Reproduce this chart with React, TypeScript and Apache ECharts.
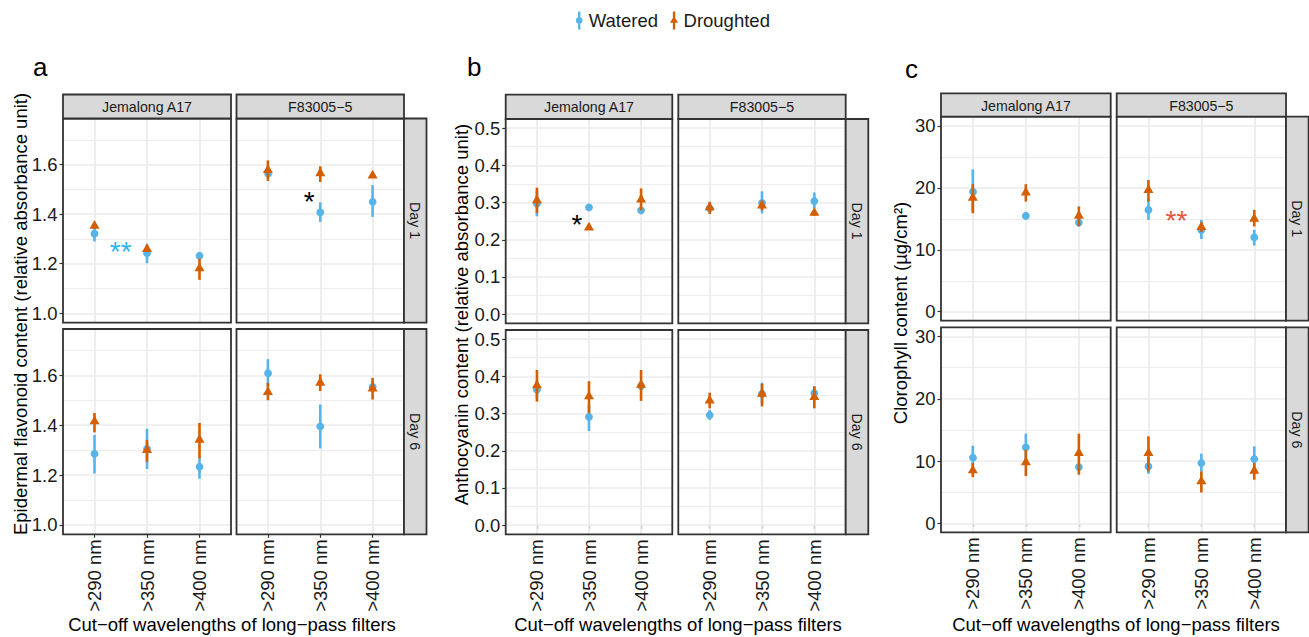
import React, { useEffect, useRef } from "react";
import * as echarts from "echarts";

// ---------- DATA ----------
const categories = [">290 nm", ">350 nm", ">400 nm"];
const genotypes = ["Jemalong A17", "F83005−5"];
const days = ["Day 1", "Day 6"];
const seriesNames = ["Watered", "Droughted"];

// [mean, lower, upper] per category
// a: Epidermal flavonoid
const flavJemDay1Watered = [[1.321, 1.29, 1.35], [1.243, 1.202, 1.28], [1.232, 1.224, 1.24]];
const flavJemDay1Droughted = [[1.353, 1.343, 1.363], [1.259, 1.251, 1.267], [1.181, 1.135, 1.22]];
const flavF8Day1Watered = [[1.568, 1.555, 1.58], [1.407, 1.369, 1.448], [1.453, 1.389, 1.517]];
const flavF8Day1Droughted = [[1.578, 1.534, 1.617], [1.565, 1.53, 1.593], [1.556, 1.548, 1.564]];
const flavJemDay6Watered = [[1.285, 1.206, 1.361], [1.305, 1.224, 1.386], [1.233, 1.185, 1.271]];
const flavJemDay6Droughted = [[1.415, 1.371, 1.449], [1.3, 1.253, 1.341], [1.341, 1.267, 1.409]];
const flavF8Day6Watered = [[1.613, 1.557, 1.665], [1.395, 1.307, 1.483], [1.557, 1.537, 1.577]];
const flavF8Day6Droughted = [[1.533, 1.5, 1.57], [1.57, 1.537, 1.604], [1.547, 1.503, 1.59]];

// b: Anthocyanin
const anthoJemDay1Watered = [[0.297, 0.263, 0.331], [0.287, 0.282, 0.292], [0.279, 0.274, 0.284]];
const anthoJemDay1Droughted = [[0.306, 0.272, 0.34], [0.233, 0.228, 0.238], [0.308, 0.279, 0.338]];
const anthoF8Day1Watered = [[0.284, 0.278, 0.29], [0.299, 0.271, 0.33], [0.304, 0.284, 0.327]];
const anthoF8Day1Droughted = [[0.287, 0.269, 0.302], [0.292, 0.279, 0.305], [0.272, 0.264, 0.28]];
const anthoJemDay6Watered = [[0.364, 0.34, 0.388], [0.291, 0.253, 0.323], [0.374, 0.366, 0.382]];
const anthoJemDay6Droughted = [[0.376, 0.332, 0.417], [0.346, 0.301, 0.387], [0.377, 0.334, 0.417]];
const anthoF8Day6Watered = [[0.296, 0.283, 0.31], [0.353, 0.327, 0.383], [0.355, 0.337, 0.373]];
const anthoF8Day6Droughted = [[0.335, 0.314, 0.356], [0.353, 0.319, 0.38], [0.344, 0.314, 0.373]];

// c: Chlorophyll
const chlJemDay1Watered = [[19.56, 16.2, 23.0], [15.48, 14.9, 16.1], [14.41, 13.9, 14.9]];
const chlJemDay1Droughted = [[18.4, 15.9, 20.6], [19.23, 17.8, 20.6], [15.48, 13.8, 17.0]];
const chlF8Day1Watered = [[16.44, 14.84, 18.3], [13.2, 11.74, 14.84], [12.0, 10.7, 13.23]];
const chlF8Day1Droughted = [[19.66, 17.8, 21.27], [13.67, 12.9, 14.4], [15.0, 13.77, 16.45]];
const chlJemDay6Watered = [[10.7, 9.14, 12.47], [12.2, 10.2, 14.4], [9.03, 8.5, 9.6]];
const chlJemDay6Droughted = [[8.49, 7.42, 9.68], [9.78, 7.6, 11.8], [11.29, 7.8, 14.4]];
const chlF8Day6Watered = [[9.14, 7.96, 10.5], [9.68, 8.3, 11.2], [10.32, 8.6, 12.37]];
const chlF8Day6Droughted = [[11.29, 8.33, 13.98], [6.72, 4.95, 8.33], [8.44, 7.0, 9.68]];

// axis breaks
const flavBreaks = [1.0, 1.2, 1.4, 1.6];
const flavMinor = [1.1, 1.3, 1.5, 1.7];
const anthoBreaks = [0.0, 0.1, 0.2, 0.3, 0.4, 0.5];
const anthoMinor = [0.05, 0.15, 0.25, 0.35, 0.45];
const chlBreaks = [0, 10, 20, 30];
const chlMinor = [5, 15, 25];

// significance annotations (panel index, facet index, x, y, text)
const annotPanel = [0, 0, 1, 2];
const annotFacet = [0, 1, 0, 1];
const annotX = [1.5, 1.79, 1.77, 1.53];
const annotY = [1.275, 1.476, 0.257, 15.64];
const annotText = ["**", "*", "*", "**"];

// ---------- STYLE / LAYOUT ----------
const FONT = "'Liberation Sans', Arial, Helvetica, sans-serif";
const seriesColors = ["#56B4E9", "#D55E00"];
const annotColors = ["#2FB5EC", "#000000", "#000000", "#E4573A"];
const BORDER = "#333333";
const GRIDC = "#EBEBEB";

const panels = [
  {
    letter: "a", letterX: 33, letterY: 67,
    yTitle: "Epidermal flavonoid content (relative absorbance unit)", yTitleX: 20, yTitleY: 314,
    xTitleX: 232,
    cols: [[63, 231], [236.5, 404]], rows: [[118.5, 322.7], [329, 534.3]],
    stripTop: 94.5, stripRight: 426.5,
    min: 0.962, max: 1.786, majors: flavBreaks, minors: flavMinor,
    fmt: (v: number) => v.toFixed(1),
    data: [
      [flavJemDay1Watered, flavJemDay1Droughted], [flavF8Day1Watered, flavF8Day1Droughted],
      [flavJemDay6Watered, flavJemDay6Droughted], [flavF8Day6Watered, flavF8Day6Droughted],
    ],
  },
  {
    letter: "b", letterX: 467, letterY: 67,
    yTitle: "Anthocyanin content (relative absorbance unit)", yTitleX: 461.5, yTitleY: 314.5,
    xTitleX: 678,
    cols: [[505.7, 672.3], [678.3, 845.7]], rows: [[119, 323.3], [330, 534.3]],
    stripTop: 94.7, stripRight: 868.3,
    min: -0.0245, max: 0.5245, majors: anthoBreaks, minors: anthoMinor,
    fmt: (v: number) => v.toFixed(1),
    data: [
      [anthoJemDay1Watered, anthoJemDay1Droughted], [anthoF8Day1Watered, anthoF8Day1Droughted],
      [anthoJemDay6Watered, anthoJemDay6Droughted], [anthoF8Day6Watered, anthoF8Day6Droughted],
    ],
  },
  {
    letter: "c", letterX: 905, letterY: 69,
    yTitle: "Clorophyll content (µg/cm²)", yTitleX: 900, yTitleY: 313,
    xTitleX: 1116,
    cols: [[941, 1110.7], [1116.7, 1286]], rows: [[116.7, 320.7], [327.3, 532.3]],
    stripTop: 93.3, stripRight: 1308.6,
    min: -1.45, max: 31.5, majors: chlBreaks, minors: chlMinor,
    fmt: (v: number) => String(Math.round(v)),
    data: [
      [chlJemDay1Watered, chlJemDay1Droughted], [chlF8Day1Watered, chlF8Day1Droughted],
      [chlJemDay6Watered, chlJemDay6Droughted], [chlF8Day6Watered, chlF8Day6Droughted],
    ],
  },
];

const catPositions = categories.map((_, i) => i + 1);

function textStyle(text: string, size: number, color: string, align = "center", valign = "middle") {
  return {
    text,
    fill: color,
    fontSize: size,
    fontFamily: FONT,
    align,
    verticalAlign: valign,
    textAlign: align,
    textVerticalAlign: valign,
  };
}

function pointRender(kind: number, color: string) {
  return (params: any, api: any) => {
    const x = api.value(0);
    const m = api.value(1);
    const lo = api.value(2);
    const hi = api.value(3);
    const p = api.coord([x, m]);
    const pl = api.coord([x, lo]);
    const ph = api.coord([x, hi]);
    const bw = 2.6;
    const children: any[] = [
      {
        type: "rect",
        shape: { x: p[0] - bw / 2, y: ph[1], width: bw, height: pl[1] - ph[1] },
        style: { fill: color, opacity: 1 },
      },
    ];
    if (kind === 0) {
      children.push({ type: "circle", shape: { cx: p[0], cy: p[1], r: 3.9 }, style: { fill: color, opacity: 1 } });
    } else {
      const r = 5.8;
      children.push({
        type: "polygon",
        shape: {
          points: [
            [p[0], p[1] - r],
            [p[0] + 0.866 * r, p[1] + r / 2],
            [p[0] - 0.866 * r, p[1] + r / 2],
          ],
        },
        style: { fill: color, opacity: 1 },
      });
    }
    return { type: "group", children };
  };
}

function buildOption() {
  const grids: any[] = [];
  const xAxes: any[] = [];
  const yAxes: any[] = [];
  const series: any[] = [];
  const graphics: any[] = [];

  panels.forEach((P, pi) => {
    graphics.push({
      type: "text", x: P.letterX, y: P.letterY, z: 20,
      style: textStyle(P.letter, 26, "#000000", "left", "middle"),
    });
    graphics.push({
      type: "text", x: P.yTitleX, y: P.yTitleY, rotation: Math.PI / 2, z: 20,
      style: textStyle(P.yTitle, 18.5, "#000000"),
    });
    graphics.push({
      type: "text", x: P.xTitleX, y: 624, z: 20,
      style: textStyle("Cut−off wavelengths of long−pass filters", 18.5, "#000000"),
    });
    P.cols.forEach(([L, R], c) => {
      graphics.push({
        type: "rect", z: 10,
        shape: { x: L, y: P.stripTop, width: R - L, height: P.rows[0][0] - P.stripTop },
        style: { fill: "#D9D9D9", stroke: BORDER, lineWidth: 1.8 },
      });
      graphics.push({
        type: "text", z: 11, x: (L + R) / 2, y: (P.stripTop + P.rows[0][0]) / 2 + 0.5,
        style: textStyle(genotypes[c], 14.2, "#1A1A1A"),
      });
    });
    P.rows.forEach(([T, B], r) => {
      const L = P.cols[1][1];
      graphics.push({
        type: "rect", z: 10,
        shape: { x: L, y: T, width: P.stripRight - L, height: B - T },
        style: { fill: "#D9D9D9", stroke: BORDER, lineWidth: 1.8 },
      });
      graphics.push({
        type: "text", z: 11, x: (L + P.stripRight) / 2, y: (T + B) / 2, rotation: -Math.PI / 2,
        style: textStyle(days[r], 14.2, "#1A1A1A"),
      });
    });

    for (let r = 0; r < 2; r++) {
      for (let c = 0; c < 2; c++) {
        const fi = r * 2 + c;
        const gi = grids.length;
        const [L, R] = P.cols[c];
        const [T, B] = P.rows[r];
        grids.push({
          left: L, top: T, width: R - L, height: B - T,
          show: true, borderColor: BORDER, borderWidth: 1.8, backgroundColor: "transparent",
          z: 8,
        });
        xAxes.push({
          gridIndex: gi, type: "value", min: 0.4, max: 3.6,
          axisLine: { show: false }, splitLine: { show: false },
          axisTick: { show: r === 1, customValues: catPositions, length: 3.5, lineStyle: { color: BORDER, width: 1.2 } },
          axisLabel: {
            show: r === 1, customValues: catPositions, rotate: 90, margin: 5,
            fontSize: 18.5, fontFamily: FONT, color: "#1A1A1A",
            formatter: (v: number) => categories[Math.round(v) - 1] ?? "",
          },
        });
        yAxes.push({
          gridIndex: gi, type: "value", min: P.min, max: P.max,
          axisLine: { show: false }, splitLine: { show: false },
          axisTick: { show: c === 0, customValues: P.majors, length: 3.5, lineStyle: { color: BORDER, width: 1.2 } },
          axisLabel: {
            show: c === 0, customValues: P.majors, margin: 5.5,
            fontSize: 18.5, fontFamily: FONT, color: "#1A1A1A",
            formatter: P.fmt,
          },
        });
        const glines: any[] = [];
        P.minors.forEach((v) => glines.push({ yAxis: v, lineStyle: { color: GRIDC, width: 0.9, type: "solid" } }));
        P.majors.forEach((v) => glines.push({ yAxis: v, lineStyle: { color: GRIDC, width: 1.7, type: "solid" } }));
        catPositions.forEach((v) => glines.push({ xAxis: v, lineStyle: { color: GRIDC, width: 1.7, type: "solid" } }));
        series.push({
          type: "line", name: "gridlines-" + gi, data: [], xAxisIndex: gi, yAxisIndex: gi,
          silent: true, z: 1,
          markLine: {
            z: 1, silent: true, symbol: ["none", "none"], label: { show: false },
            emphasis: { disabled: true }, animation: false, data: glines,
          },
        });
        P.data[fi].forEach((rows: number[][], s: number) => {
          series.push({
            type: "custom", name: seriesNames[s], xAxisIndex: gi, yAxisIndex: gi,
            itemStyle: { color: seriesColors[s], opacity: 1 }, z: 3 + s, clip: false, silent: true,
            emphasis: { disabled: true },
            encode: { x: 0, y: [1, 2, 3] },
            data: rows.map((v, i) => [catPositions[i], v[0], v[1], v[2]]),
            renderItem: pointRender(s, seriesColors[s]),
          });
        });
        annotPanel.forEach((ap, ai) => {
          if (ap !== pi || annotFacet[ai] !== fi) return;
          const color = annotColors[ai];
          const fs = 28;
          series.push({
            type: "custom", name: "annot-" + ai, xAxisIndex: gi, yAxisIndex: gi, z: 6, silent: true,
            encode: { x: 0, y: 1 },
            data: [[annotX[ai], annotY[ai]]],
            renderItem: (params: any, api: any) => {
              const p = api.coord([api.value(0), api.value(1)]);
              return {
                type: "text", x: p[0], y: p[1] + 0.21 * fs,
                style: textStyle(annotText[ai], fs, color),
              };
            },
          });
        });
      }
    }
  });

  return {
    animation: false,
    backgroundColor: "#FFFFFF",
    textStyle: { fontFamily: FONT },
    legend: {
      left: 576, top: 11, padding: 0, itemWidth: 9, itemHeight: 18, itemGap: 12, selectedMode: false,
      textStyle: { fontSize: 18.5, fontFamily: FONT, color: "#1A1A1A" },
      data: [
        { name: "Watered", icon: "path://M3.7,0H6.3V20H3.7Z M1.4,10A3.6,3.6 0 1,1 8.6,10A3.6,3.6 0 1,1 1.4,10Z" },
        { name: "Droughted", icon: "path://M3.7,0H6.3V20H3.7Z M5,5L9.5,12.6L0.5,12.6Z" },
      ],
    },
    grid: grids,
    xAxis: xAxes,
    yAxis: yAxes,
    series,
    graphic: graphics,
  };
}

export default function App() {
  const ref = useRef<HTMLDivElement>(null);
  useEffect(() => {
    if (!ref.current) return;
    const chart = echarts.init(ref.current, undefined, { renderer: "svg" });
    chart.setOption(buildOption() as any);
    return () => chart.dispose();
  }, []);
  return (
    <div
      ref={ref}
      style={{ position: "fixed", left: 0, top: 0, width: 1309, height: 637, background: "#fff" }}
    />
  );
}
